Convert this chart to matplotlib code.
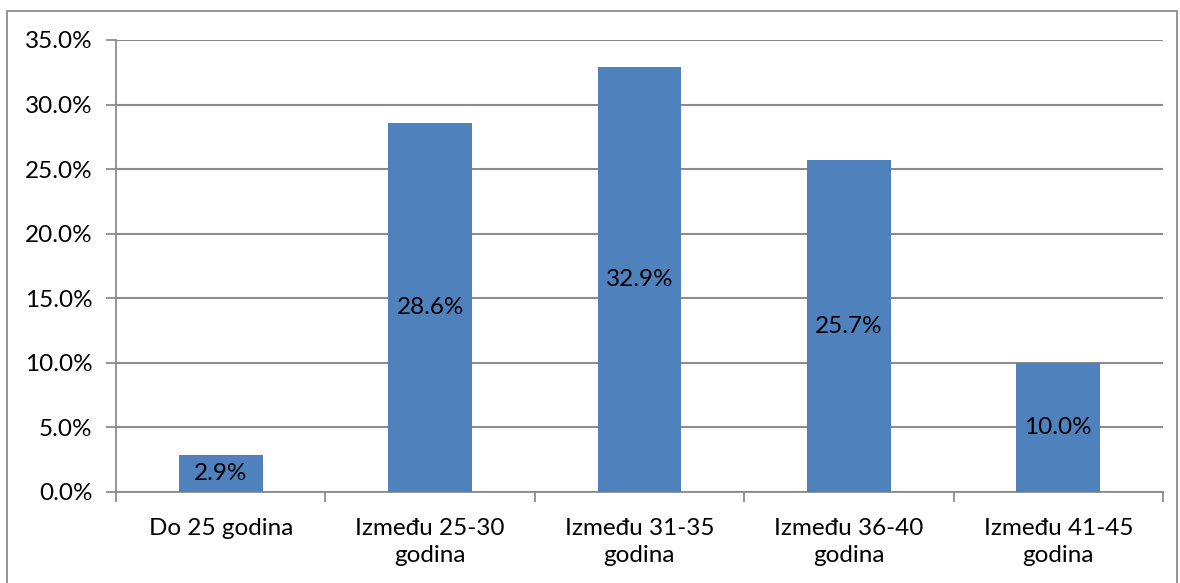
import matplotlib
matplotlib.use('Agg')
import matplotlib.pyplot as plt
from matplotlib.patches import Rectangle
import numpy as np

categories = ['Do 25 godina', 'Između 25-30\ngodina', 'Između 31-35\ngodina',
              'Između 36-40\ngodina', 'Između 41-45\ngodina']
values = [2.9, 28.6, 32.9, 25.7, 10.0]
yticks = [0, 5, 10, 15, 20, 25, 30, 35]

plt.rcParams['font.family'] = ['Lato', 'DejaVu Sans']
fsize = 17.5

W, H = 1180, 583
fig = plt.figure(figsize=(W / 100, H / 100), dpi=100)
ax = fig.add_axes([116 / W, 1 - 492 / H, (1163 - 116) / W, (492 - 40) / H])

# outer chart border (bottom cut off in the original)
fig.patches.append(Rectangle((7 / W, -0.05), (1177 - 7) / W, 1.05 - 11 / H,
                             transform=fig.transFigure, fill=False,
                             edgecolor='#8c8c8c', linewidth=1.3))

x = np.arange(len(values))
bars = ax.bar(x, values, width=0.4, color='#4f81bd', zorder=3)

for b, v in zip(bars, values):
    ax.text(b.get_x() + b.get_width() / 2, v / 2, f'{v:.1f}%', ha='center',
            va='center', fontsize=fsize, color='black', zorder=4)

ax.set_xlim(-0.5, len(values) - 0.5)
ax.set_ylim(0, 35)
ax.set_yticks(yticks)
ax.set_yticklabels([f'{t:.1f}%' for t in yticks], fontsize=fsize)
ax.yaxis.grid(True, color='#8c8c8c', linewidth=1.5, zorder=0)

ax.set_xticks(x)
ax.set_xticklabels(categories, fontsize=fsize, linespacing=1.32)
ax.set_xticks(np.arange(-0.5, len(values)), minor=True)
ax.tick_params(axis='x', which='major', length=0, pad=19)
ax.tick_params(axis='x', which='minor', length=7, width=1.3, color='#8c8c8c')
ax.tick_params(axis='y', length=7, width=1.3, color='#8c8c8c', pad=10)

for s in ['top', 'right']:
    ax.spines[s].set_visible(False)
for s in ['left', 'bottom']:
    ax.spines[s].set_color('#8c8c8c')
    ax.spines[s].set_linewidth(1.3)

fig.savefig('out.png', dpi=100)
